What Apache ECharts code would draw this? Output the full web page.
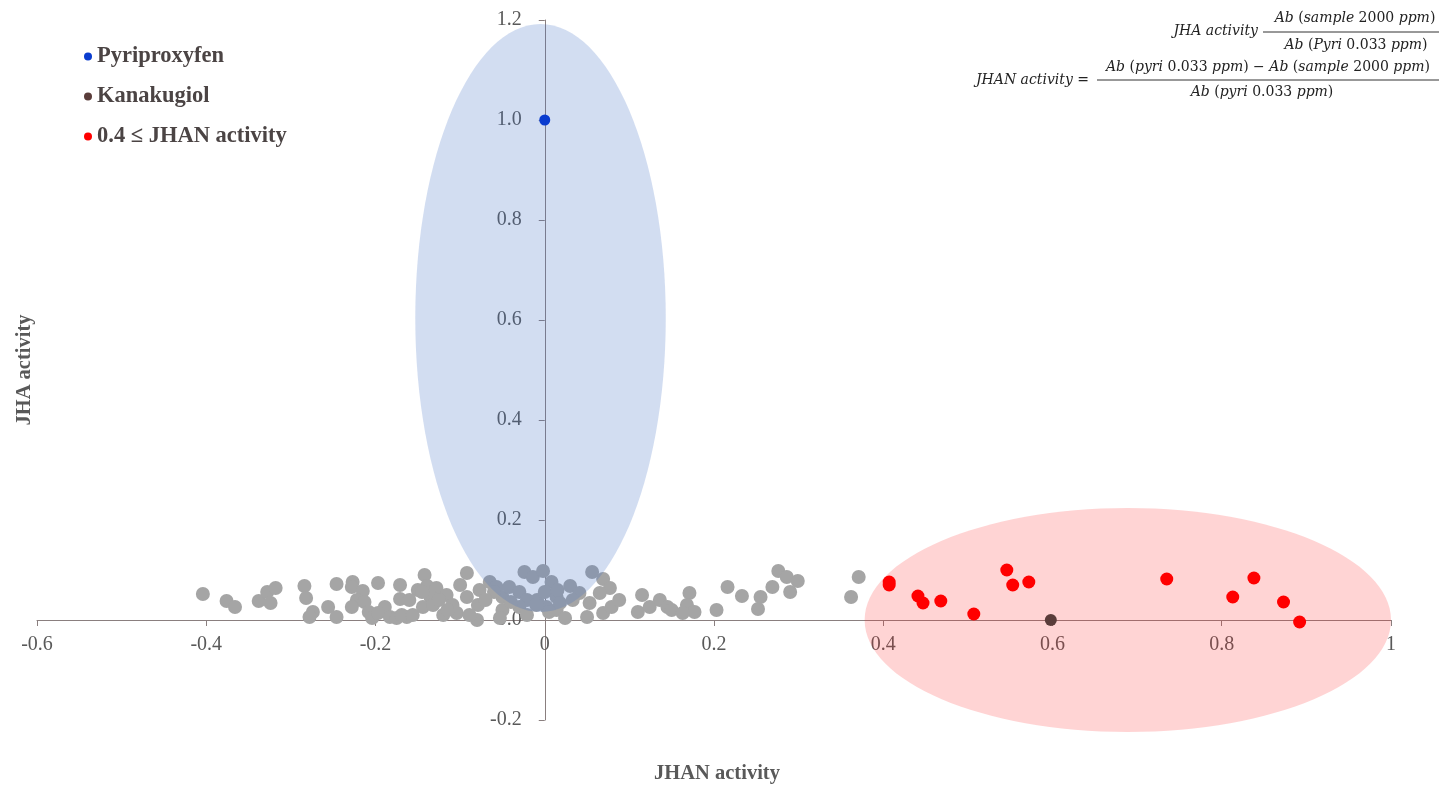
<!DOCTYPE html>
<html>
<head>
<meta charset="utf-8">
<title>JHA / JHAN activity</title>
<script src="https://cdn.jsdelivr.net/npm/echarts@6/dist/echarts.min.js"></script>
<style>
  html, body { margin: 0; padding: 0; background: #fff; }
  #chart { width: 1444px; height: 788px; }
</style>
</head>
<body>
<div id="chart"></div>
<script>
// [JHAN activity, JHA activity] for the screened samples
var grayPoints = [
  [-0.404, 0.052], [-0.376, 0.038], [-0.366, 0.026], [-0.338, 0.038], [-0.328, 0.056],
  [-0.318, 0.064], [-0.324, 0.034], [-0.284, 0.068], [-0.282, 0.044], [-0.274, 0.016],
  [-0.278, 0.006], [-0.256, 0.026], [-0.246, 0.072], [-0.246, 0.006], [-0.227, 0.076],
  [-0.228, 0.066], [-0.215, 0.058], [-0.222, 0.040], [-0.228, 0.026], [-0.213, 0.036],
  [-0.208, 0.016], [-0.204, 0.004], [-0.197, 0.074], [-0.189, 0.026], [-0.197, 0.014],
  [-0.183, 0.006], [-0.171, 0.070], [-0.171, 0.042], [-0.175, 0.004], [-0.163, 0.006],
  [-0.169, 0.010], [-0.156, 0.010], [-0.142, 0.090], [-0.139, 0.068], [-0.128, 0.064],
  [-0.135, 0.046], [-0.144, 0.026], [-0.132, 0.030], [-0.116, 0.050], [-0.100, 0.070],
  [-0.092, 0.094], [-0.109, 0.030], [-0.092, 0.046], [-0.077, 0.060], [-0.079, 0.030],
  [-0.080, 0.000], [-0.065, 0.076], [-0.057, 0.066], [-0.050, 0.046], [-0.042, 0.066],
  [-0.030, 0.056], [-0.024, 0.096], [-0.014, 0.086], [-0.021, 0.040], [-0.009, 0.040],
  [-0.002, 0.098], [0.008, 0.076], [0.000, 0.056], [0.014, 0.046], [0.002, 0.026],
  [0.014, 0.020], [-0.030, 0.026], [-0.050, 0.020], [-0.053, 0.004], [-0.021, 0.010],
  [-0.120, 0.010], [-0.104, 0.014], [-0.089, 0.010], [-0.060, 0.056], [-0.070, 0.040],
  [-0.040, 0.036], [-0.010, 0.030], [0.005, 0.016], [-0.115, 0.020], [-0.150, 0.060],
  [-0.160, 0.040], [-0.125, 0.040], [-0.145, 0.056], [0.015, 0.060], [0.030, 0.068],
  [0.041, 0.054], [0.056, 0.096], [0.069, 0.082], [0.077, 0.064], [0.065, 0.054],
  [0.018, 0.034], [0.033, 0.040], [0.053, 0.034], [0.024, 0.004], [0.050, 0.006],
  [0.069, 0.014], [0.079, 0.026], [0.088, 0.040], [0.115, 0.050], [0.110, 0.016],
  [0.124, 0.026], [0.136, 0.040], [0.145, 0.026], [0.150, 0.020], [0.171, 0.054],
  [0.168, 0.030], [0.177, 0.016], [0.163, 0.014], [0.203, 0.020], [0.216, 0.066],
  [0.233, 0.048], [0.252, 0.022], [0.255, 0.046], [0.269, 0.066], [0.276, 0.098],
  [0.286, 0.086], [0.290, 0.056], [0.299, 0.078], [0.362, 0.046], [0.371, 0.086]
];
// 0.4 <= JHAN activity
var redPoints = [
  [0.407, 0.070], [0.407, 0.076], [0.441, 0.048], [0.447, 0.034], [0.468, 0.038],
  [0.507, 0.012], [0.546, 0.100], [0.553, 0.070], [0.572, 0.076], [0.735, 0.082],
  [0.813, 0.046], [0.838, 0.084], [0.873, 0.036], [0.892, -0.004]
];
var pyriproxyfen = [[0, 1.0]];
var kanakugiol = [[0.598, 0.0]];
// highlight ellipses: [centerX, centerY, radiusX, radiusY] in data units
var jhaEllipse = [[-0.005, 0.604, 0.148, 0.588]];
var jhanEllipse = [[0.689, 0.0, 0.311, 0.224]];
var legendNames = ['Pyriproxyfen', 'Kanakugiol', '0.4 \u2264 JHAN activity'];

var serif = '"Liberation Serif", "Times New Roman", serif';
var mathFont = '"DejaVu Serif", serif';
var labelColor = '#595959';
var axisColor = '#8a7f7f';

function ellipseItem (color) {
  return function (params, api) {
    var c = api.coord([api.value(0), api.value(1)]);
    var s = api.size([api.value(2), api.value(3)]);
    return {
      type: 'ellipse',
      shape: { cx: c[0], cy: c[1], rx: s[0], ry: s[1] },
      style: { fill: color }
    };
  };
}

// words in {i|..} are italic, numbers and signs stay upright
function mathText (text, x, y, align) {
  return {
    type: 'text',
    x: x,
    y: y,
    style: {
      text: text,
      font: '14px ' + mathFont,
      fill: '#222',
      textAlign: align,
      textVerticalAlign: 'middle',
      rich: {
        i: { fontStyle: 'italic', fontSize: 14, fontFamily: mathFont, fill: '#222' }
      }
    }
  };
}

function fracBar (x1, x2, y) {
  return {
    type: 'line',
    shape: { x1: x1, y1: y, x2: x2, y2: y },
    style: { stroke: '#333', lineWidth: 1 }
  };
}

var chart = echarts.init(document.getElementById('chart'));

var option = {
  backgroundColor: '#fff',
  animation: false,
  grid: { left: 37, right: 53, top: 20, bottom: 68, containLabel: false, outerBoundsMode: 'none' },
  legend: {
    data: legendNames,
    orient: 'vertical',
    left: 79,
    top: 40,
    itemWidth: 8,
    itemHeight: 8,
    itemGap: 17,
    icon: 'circle',
    textStyle: {
      fontFamily: serif,
      fontWeight: 'bold',
      fontSize: 22.5,
      lineHeight: 23,
      color: '#4b4444'
    }
  },
  xAxis: {
    type: 'value',
    min: -0.6,
    max: 1,
    interval: 0.2,
    splitLine: { show: false },
    axisLine: { onZero: false, lineStyle: { color: axisColor, width: 1 } },
    axisTick: { show: true, length: 6, lineStyle: { color: axisColor } },
    axisLabel: { fontFamily: serif, fontSize: 20, color: labelColor, margin: 15 }
  },
  yAxis: {
    type: 'value',
    min: -0.2,
    max: 1.2,
    interval: 0.2,
    splitLine: { show: false },
    axisLine: { onZero: false, lineStyle: { color: axisColor, width: 1 } },
    axisTick: { show: true, length: 6, lineStyle: { color: axisColor } },
    axisLabel: {
      fontFamily: serif,
      fontSize: 20,
      color: labelColor,
      margin: 23,
      formatter: function (v) { return v.toFixed(1); }
    }
  },
  graphic: [
    {
      type: 'text',
      x: 25,
      y: 370,
      rotation: Math.PI / 2,
      style: {
        text: 'JHA activity',
        font: 'bold 20.5px ' + serif,
        fill: labelColor,
        textAlign: 'center',
        textVerticalAlign: 'middle'
      }
    },
    {
      type: 'text',
      x: 717,
      y: 774,
      style: {
        text: 'JHAN activity',
        font: 'bold 20.5px ' + serif,
        fill: labelColor,
        textAlign: 'center',
        textVerticalAlign: 'middle'
      }
    },
    // formulas, top right
    mathText('{i|JHA activity}', 1258, 31, 'right'),
    mathText('{i|Ab} ({i|sample} 2000 {i|ppm})', 1355, 18, 'center'),
    fracBar(1263, 1439, 32),
    mathText('{i|Ab} ({i|Pyri} 0.033 {i|ppm})', 1356, 45, 'center'),
    mathText('{i|JHAN activity} =', 1089, 80, 'right'),
    mathText('{i|Ab} ({i|pyri} 0.033 {i|ppm}) \u2212 {i|Ab} ({i|sample} 2000 {i|ppm})', 1268, 67, 'center'),
    fracBar(1097, 1439, 80),
    mathText('{i|Ab} ({i|pyri} 0.033 {i|ppm})', 1262, 92, 'center')
  ],
  series: [
    {
      name: 'jhanArea',
      type: 'custom',
      z: 1,
      renderItem: ellipseItem('rgba(255, 40, 40, 0.2)'),
      data: jhanEllipse,
      silent: true
    },
    {
      name: 'samples',
      type: 'scatter',
      z: 2,
      symbolSize: 14,
      itemStyle: { color: '#a5a5a5', opacity: 1 },
      data: grayPoints
    },
    {
      name: 'jhaArea',
      type: 'custom',
      z: 3,
      renderItem: ellipseItem('rgba(68, 114, 196, 0.24)'),
      data: jhaEllipse,
      silent: true
    },
    {
      name: legendNames[2],
      type: 'scatter',
      z: 4,
      symbolSize: 13,
      itemStyle: { color: '#ff0000', opacity: 1 },
      data: redPoints
    },
    {
      name: legendNames[1],
      type: 'scatter',
      z: 4,
      symbolSize: 12,
      itemStyle: { color: '#5a3c3a', opacity: 1 },
      data: kanakugiol
    },
    {
      name: legendNames[0],
      type: 'scatter',
      z: 4,
      symbolSize: 11,
      itemStyle: { color: '#0a3ccf', opacity: 1 },
      data: pyriproxyfen
    }
  ]
};

chart.setOption(option);

// move both axes (line, ticks and labels) onto the zero lines
var zero = chart.convertToPixel({ gridIndex: 0 }, [0, 0]);
var corner = chart.convertToPixel({ gridIndex: 0 }, [-0.6, -0.2]);
chart.setOption({
  xAxis: { offset: zero[1] - corner[1] },
  yAxis: { offset: corner[0] - zero[0] }
});
</script>
</body>
</html>
